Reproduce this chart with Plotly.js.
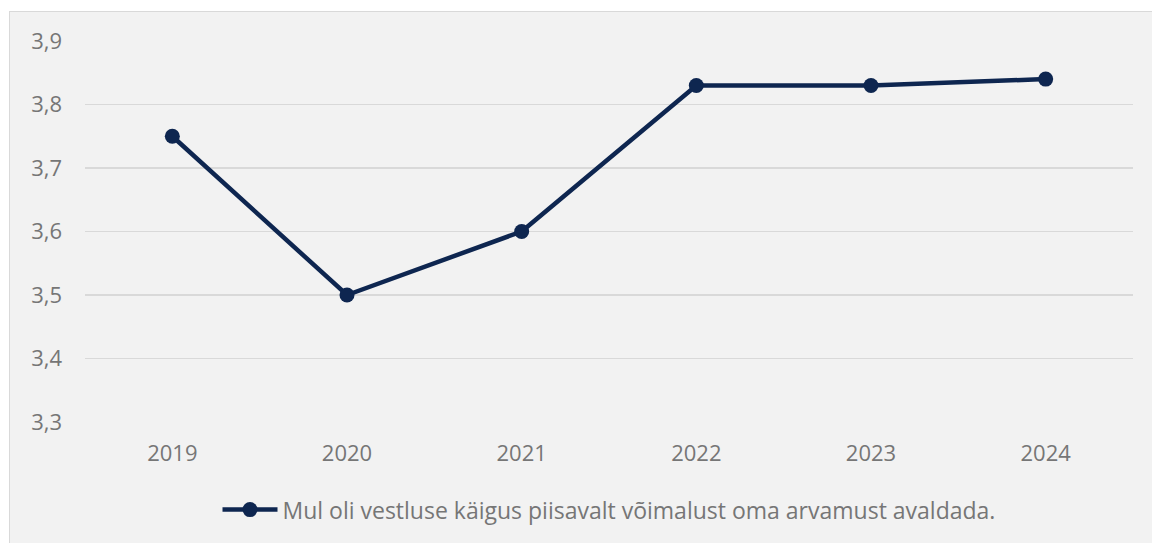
<!DOCTYPE html>
<html><head><meta charset="utf-8">
<script src="https://cdn.plot.ly/plotly-3.0.1.min.js"></script>
<style>
html,body{margin:0;padding:0;background:#fff;width:1152px;height:543px;overflow:hidden;}
#bg{position:absolute;left:9px;top:11px;width:1160px;height:560px;background:#f2f2f2;border:1px solid #d9d9d9;box-sizing:border-box;}
#chart{position:absolute;left:0;top:0;width:1152px;height:543px;}
</style></head>
<body><div id="bg"></div><div id="chart"></div>
<script>
const years = ['2019','2020','2021','2022','2023','2024'];
const values = [3.75, 3.5, 3.6, 3.83, 3.83, 3.84];
const seriesName = 'Mul oli vestluse käigus piisavalt võimalust oma arvamust avaldada.';
const yTicks = [3.3, 3.4, 3.5, 3.6, 3.7, 3.8, 3.9];

const trace = {
  x: years, y: values, type: 'scatter', mode: 'lines+markers', name: seriesName,
  line: {color: '#0e2650', width: 4.5},
  marker: {color: '#0e2650', size: 15}
};
const font = {family: '"Open Sans", sans-serif', color: '#767676', size: 22};
const legendFont = {family: '"Open Sans", sans-serif', color: '#767676', size: 23};
const layout = {
  width: 1152, height: 543,
  paper_bgcolor: 'rgba(0,0,0,0)', plot_bgcolor: 'rgba(0,0,0,0)',
  margin: {l: 85, r: 19, t: 41, b: 119},
  separators: ', ',
  font: font,
  showlegend: true,
  legend: {orientation: 'h', x: 0.5, xanchor: 'center', y: -0.23, yanchor: 'middle', font: legendFont, itemwidth: 55, bgcolor: 'rgba(0,0,0,0)'},
  xaxis: {type: 'category', range: [-0.5, 5.5], showgrid: false, zeroline: false, showline: false, ticks: '', tickfont: font, ticklabelstandoff: 16},
  yaxis: {range: [3.3, 3.9], tickvals: yTicks, tickformat: '.1f', showgrid: true, gridcolor: '#d9d9d9', gridwidth: 1.5, zeroline: false, showline: false, ticks: '', tickfont: font, ticklabelstandoff: 22}
};
Plotly.newPlot('chart', [trace], layout, {displayModeBar: false, staticPlot: true});
</script></body></html>
